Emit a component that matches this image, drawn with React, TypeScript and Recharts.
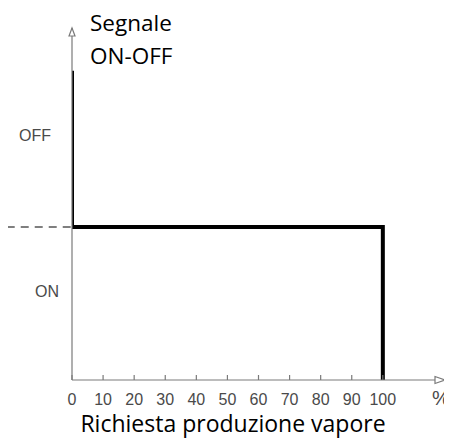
import React from "react";
import { LineChart, Line, XAxis, YAxis, ReferenceLine, ReferenceDot } from "recharts";

// Step signal: OFF above the threshold level, ON below
const xValues = [0, 0, 100, 100];
const yValues = [2.02, 1, 1, 0];
const xTicks = [0, 10, 20, 30, 40, 50, 60, 70, 80, 90, 100];
const yTickValues = [0.58, 1.6];
const yTickLabels = ["ON", "OFF"];
const thresholdLevel = 1;
const dashStartX = -21;
const xMax = 120;
const yMax = 2.3;
const yAxisTitle = ["Segnale", "ON-OFF"];
const xAxisTitle = "Richiesta produzione vapore";
const xUnit = "%";

const data = xValues.map((x, i) => ({ x, y: yValues[i] }));

const AXIS = "#7a7a7a";
const TICK_FONT = "'Liberation Sans Narrow', 'Liberation Sans', Arial, sans-serif";
const TITLE_FONT = "'Open Sans', sans-serif";

const XTick = (props: any) => {
  const { x, y, payload } = props;
  return (
    <g>
      <line x1={x} x2={x} y1={y - 5} y2={y} stroke={AXIS} strokeWidth={1.2} />
      <text x={x} y={y + 25} textAnchor="middle" fontFamily={TICK_FONT} fontSize={16} fill="#4a4a4a">
        {payload.value}
      </text>
    </g>
  );
};

const YTick = (props: any) => {
  const { y, payload } = props;
  const idx = yTickValues.indexOf(payload.value);
  const label = yTickLabels[idx];
  const endX = payload.value > 1 ? 43 : 51;
  return (
    <text x={endX} y={y + 6} textAnchor="end" fontFamily={TICK_FONT} fontSize={16} fill="#4a4a4a">
      {label}
    </text>
  );
};

const XLabel = (props: any) => {
  const vb = props.viewBox;
  return (
    <g>
      <text x={vb.x + 161} y={vb.y + 52} textAnchor="middle" fontFamily={TITLE_FONT} fontSize={23} fill="#000">
        {xAxisTitle}
      </text>
      <text x={vb.x + vb.width - 4} y={vb.y + 25} textAnchor="middle" fontFamily="'Liberation Sans', Arial, sans-serif" fontSize={20} fill="#4a4a4a">
        {xUnit}
      </text>
    </g>
  );
};

const YLabel = (props: any) => {
  const vb = props.viewBox;
  const x0 = vb.x + vb.width + 18;
  return (
    <g>
      <text x={x0} y={vb.y + 3} fontFamily={TITLE_FONT} fontSize={22.5} fill="#000">
        {yAxisTitle[0]}
      </text>
      <text x={x0} y={vb.y + 36} fontFamily={TITLE_FONT} fontSize={22.5} fill="#000">
        {yAxisTitle[1]}
      </text>
    </g>
  );
};

const RightArrow = (props: any) => {
  const { cx, cy } = props;
  return (
    <polygon
      points={`${cx - 10},${cy - 3.5} ${cx},${cy} ${cx - 10},${cy + 3.5}`}
      fill="#fff"
      stroke={AXIS}
      strokeWidth={1.2}
    />
  );
};

const UpArrow = (props: any) => {
  const { cx, cy } = props;
  return (
    <polygon
      points={`${cx - 3},${cy + 8} ${cx},${cy} ${cx + 3},${cy + 8}`}
      fill="#fff"
      stroke={AXIS}
      strokeWidth={1.2}
    />
  );
};

export default function App() {
  return (
    <LineChart width={444} height={434} data={data} margin={{ top: 20, right: 7, bottom: 0, left: 0 }}>
      <XAxis
        dataKey="x"
        type="number"
        domain={[0, xMax]}
        ticks={xTicks}
        interval={0}
        tickLine={false}
        tickSize={0}
        tickMargin={0}
        tick={<XTick />}
        height={62}
        axisLine={{ stroke: AXIS, strokeWidth: 1.2 }}
        allowDataOverflow
        label={<XLabel />}
      />
      <YAxis
        type="number"
        domain={[0, yMax]}
        ticks={yTickValues}
        interval={0}
        tickLine={false}
        tick={<YTick />}
        width={64}
        axisLine={{ stroke: AXIS, strokeWidth: 1.2 }}
        allowDataOverflow
        label={<YLabel />}
      />
      <ReferenceLine
        segment={[
          { x: dashStartX, y: thresholdLevel },
          { x: 0, y: thresholdLevel },
        ]}
        stroke="#555"
        strokeWidth={1.5}
        strokeDasharray="8 6"
        ifOverflow="visible"
      />
      <ReferenceDot x={xMax} y={0} r={0} ifOverflow="visible" shape={<RightArrow />} />
      <ReferenceDot x={0} y={yMax} r={0} ifOverflow="visible" shape={<UpArrow />} />
      <Line
        type="linear"
        dataKey="y"
        stroke="#000"
        strokeWidth={4}
        strokeLinejoin="miter"
        strokeLinecap="butt"
        dot={false}
        isAnimationActive={false}
      />
    </LineChart>
  );
}
